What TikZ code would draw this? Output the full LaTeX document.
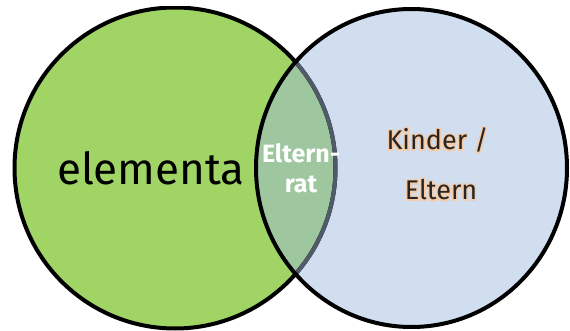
\documentclass[tikz,border=0pt]{standalone}
\usepackage{fontspec}
\setmainfont{Fira Sans}
\definecolor{greenc}{HTML}{A0D566}
\definecolor{bluec}{HTML}{D0DEEF}
\definecolor{lensc}{HTML}{9EC7A0}
\definecolor{grayc}{HTML}{505A69}
\definecolor{haloc}{HTML}{F7CBA6}
\definecolor{textc}{HTML}{262626}
\newcommand\hcopy[3]{\makebox[0pt][l]{\kern#1\raisebox{#2}{\color{haloc}#3}}}
\newcommand\myhalo[1]{%
  \hcopy{-1.5pt}{0pt}{#1}\hcopy{1.5pt}{0pt}{#1}%
  \hcopy{0pt}{1.5pt}{#1}\hcopy{0pt}{-1.5pt}{#1}%
  \hcopy{1.1pt}{1.1pt}{#1}\hcopy{-1.1pt}{1.1pt}{#1}%
  \hcopy{1.1pt}{-1.1pt}{#1}\hcopy{-1.1pt}{-1.1pt}{#1}%
  \hcopy{.7pt}{0pt}{#1}\hcopy{-.7pt}{0pt}{#1}%
  \hcopy{0pt}{.7pt}{#1}\hcopy{0pt}{-.7pt}{#1}%
  {\color{textc}#1}}
\tikzset{
  ring/.style={line width=4pt},
  bigtext/.style={anchor=base, inner sep=0pt, font=\fontsize{44}{48}\selectfont, text=black},
  lenstext/.style={anchor=base, inner sep=0pt, font=\fontsize{25}{28}\selectfont\bfseries, text=white},
  kidtext/.style={anchor=base, inner sep=0pt, font=\fontsize{27}{30}\selectfont},
}
\begin{document}
\begin{tikzpicture}[x=1pt,y=-1pt]
\useasboundingbox (0,0) rectangle (570,331);
\begin{scope}
  \clip (0,7) rectangle (570,331);
  \fill[greenc] (175,168) circle[radius=160.5];
  \fill[bluec] (411.5,168) ellipse[x radius=155.5, y radius=159];
  \begin{scope}
    \clip (175,168) circle[radius=160.5];
    \fill[lensc] (411.5,168) ellipse[x radius=155.5, y radius=159];
  \end{scope}
  \draw[ring, black] (175,168) circle[radius=160.5];
  \begin{scope}
    \clip (411.5,168) ellipse[x radius=155.5, y radius=159];
    \draw[ring, grayc] (175,168) circle[radius=160.5];
  \end{scope}
  \draw[ring, black] (411.5,168) ellipse[x radius=155.5, y radius=159];
\end{scope}
\node[bigtext] (elem) at (151,185) {elementa};
\node[lenstext] (lens1) at (301,163) {Eltern-};
\node[lenstext] (lens2) at (301,193) {rat};
\node[kidtext] (kid1) at (437.5,150) {\myhalo{Kinder /}};
\node[kidtext] (kid2) at (441,200) {\myhalo{Eltern}};
\end{tikzpicture}
\end{document}
